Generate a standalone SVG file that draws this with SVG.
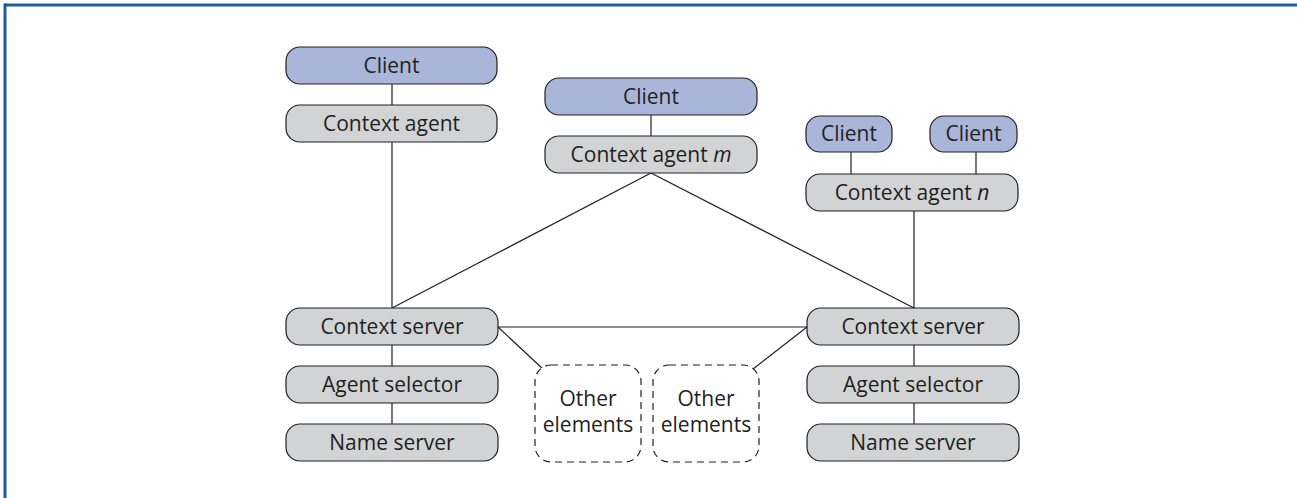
<svg xmlns="http://www.w3.org/2000/svg" width="1297" height="498" viewBox="0 0 1297 498">
  <style>
    .box { stroke: #231f20; stroke-width: 1.2; }
    .client { fill: #a9b6da; }
    .grey { fill: #d1d3d4; }
    .other { fill: #ffffff; stroke: #231f20; stroke-width: 1.2; stroke-dasharray: 7 5; }
    .lbl { font-family: "Open Sans", "Liberation Sans", sans-serif; font-size: 21px; fill: #231f20; text-anchor: middle; }
    .conn line { stroke: #231f20; stroke-width: 1.2; }
  </style>
  <rect x="0" y="0" width="1297" height="498" fill="#ffffff"/>
  <!-- frame -->
  <line x1="4.5" y1="5" x2="1297" y2="5" stroke="#1a5ea8" stroke-width="3"/>
  <line x1="5" y1="3.5" x2="5" y2="498" stroke="#1a5ea8" stroke-width="3"/>

  <g id="connectors" class="conn">
    <line x1="392" y1="84" x2="392" y2="105"/>
    <line x1="392" y1="142" x2="392" y2="308"/>
    <line x1="651" y1="115" x2="651" y2="136"/>
    <line x1="651" y1="173" x2="392" y2="308"/>
    <line x1="651" y1="173" x2="914" y2="308"/>
    <line x1="851" y1="152" x2="851" y2="174"/>
    <line x1="976" y1="152" x2="976" y2="174"/>
    <line x1="914" y1="211" x2="914" y2="308"/>
    <line x1="498" y1="327" x2="807" y2="327"/>
    <line x1="498" y1="327" x2="543" y2="369"/>
    <line x1="753" y1="369" x2="807" y2="327"/>
    <line x1="392" y1="345" x2="392" y2="366"/>
    <line x1="392" y1="403" x2="392" y2="424"/>
    <line x1="914" y1="345" x2="914" y2="366"/>
    <line x1="914" y1="403" x2="914" y2="424"/>
  </g>

  <g id="client-1"><rect class="box client" x="286" y="47" width="211" height="37" rx="14"/><text class="lbl" x="391.5" y="72.5">Client</text></g>
  <g id="context-agent"><rect class="box grey" x="286" y="105" width="211" height="37" rx="14"/><text class="lbl" x="391.5" y="130.5">Context agent</text></g>

  <g id="client-m"><rect class="box client" x="545" y="78" width="212" height="37" rx="14"/><text class="lbl" x="651" y="103.5">Client</text></g>
  <g id="context-agent-m"><rect class="box grey" x="545" y="136" width="212" height="37" rx="14"/><text class="lbl" x="651" y="161.5">Context agent <tspan font-style="italic">m</tspan></text></g>

  <g id="client-n1"><rect class="box client" x="806" y="116" width="86" height="36" rx="14"/><text class="lbl" x="849" y="141">Client</text></g>
  <g id="client-n2"><rect class="box client" x="930" y="116" width="87" height="36" rx="14"/><text class="lbl" x="973.5" y="141">Client</text></g>
  <g id="context-agent-n"><rect class="box grey" x="806" y="174" width="212" height="37" rx="14"/><text class="lbl" x="912" y="199.5">Context agent <tspan font-style="italic">n</tspan></text></g>

  <g id="context-server-1"><rect class="box grey" x="286" y="308" width="212" height="37" rx="14"/><text class="lbl" x="392" y="333.5">Context server</text></g>
  <g id="agent-selector-1"><rect class="box grey" x="286" y="366" width="212" height="37" rx="14"/><text class="lbl" x="392" y="391.5">Agent selector</text></g>
  <g id="name-server-1"><rect class="box grey" x="286" y="424" width="212" height="37" rx="14"/><text class="lbl" x="392" y="449.5">Name server</text></g>

  <g id="context-server-2"><rect class="box grey" x="807" y="308" width="212" height="37" rx="14"/><text class="lbl" x="913" y="333.5">Context server</text></g>
  <g id="agent-selector-2"><rect class="box grey" x="807" y="366" width="212" height="37" rx="14"/><text class="lbl" x="913" y="391.5">Agent selector</text></g>
  <g id="name-server-2"><rect class="box grey" x="807" y="424" width="212" height="37" rx="14"/><text class="lbl" x="913" y="449.5">Name server</text></g>

  <g id="other-elements-1"><rect class="other" x="535" y="365" width="106" height="97" rx="16"/><text class="lbl" x="588" y="405.5">Other</text><text class="lbl" x="588" y="431.5">elements</text></g>
  <g id="other-elements-2"><rect class="other" x="653" y="365" width="106" height="97" rx="16"/><text class="lbl" x="706" y="405.5">Other</text><text class="lbl" x="706" y="431.5">elements</text></g>
</svg>
